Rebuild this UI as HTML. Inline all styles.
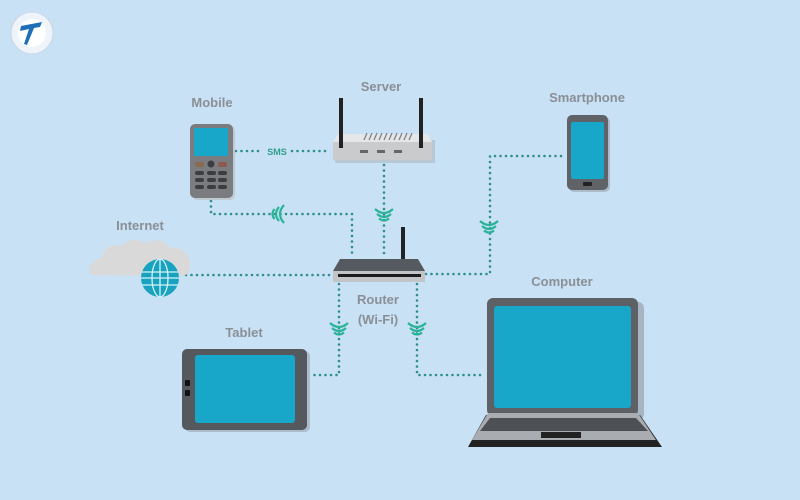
<!DOCTYPE html>
<html><head><meta charset="utf-8"><style>
html,body{margin:0;padding:0;background:#c9e1f5;}
svg{display:block}
text{font-family:"Liberation Sans",sans-serif;fill:#8a8f96;font-weight:bold;font-size:13px;text-anchor:middle}
</style></head><body>
<svg width="800" height="500" viewBox="0 0 800 500">
<defs>
<g id="wv">
 <path d="M-9,-5 Q0,3 9,-5" fill="none" stroke="#2bb39a" stroke-width="2.2"/>
 <path d="M-7,0 Q0,6 7,0" fill="none" stroke="#2bb39a" stroke-width="2.2"/>
 <path d="M-5,4.5 Q0,8.5 5,4.5" fill="none" stroke="#2bb39a" stroke-width="2.2"/>
</g>
</defs>
<rect width="800" height="500" fill="#c9e1f5"/>
<!-- logo -->
<circle cx="32" cy="33" r="21" fill="#eef4fa" stroke="#c8d6e6"/>
<circle cx="32" cy="33" r="14" fill="#fff"/>
<path d="M21,26 L42,22 L40,27 L34,28 L27,45 L24,44 L29,29 L20,31Z" fill="#1d6fb8"/>
<!-- dotted lines -->
<g fill="none" stroke="#2e8f8c" stroke-width="2.6" stroke-linecap="round" stroke-dasharray="0 5.5">
 <path d="M236,151 H262"/><path d="M292,151 H330"/>
 <path d="M211,201 V214 H352 V258"/>
 <path d="M384,165 V258"/>
 <path d="M186,275 H333"/>
 <path d="M426,274 H490 V156 H566"/>
 <path d="M339,284 V375 H310"/>
 <path d="M417,284 V375 H485"/>
</g>
<text x="277" y="155" style="font-size:9px;fill:#2e9f8c">SMS</text>
<use href="#wv" x="384" y="214"/>
<use href="#wv" x="489" y="226"/>
<use href="#wv" x="339" y="328"/>
<use href="#wv" x="417" y="328"/>
<use href="#wv" transform="translate(279,214) rotate(90)"/>
<!-- labels -->
<text x="212" y="107">Mobile</text>
<text x="381" y="91">Server</text>
<text x="587" y="102">Smartphone</text>
<text x="140" y="230">Internet</text>
<text x="378" y="304">Router</text>
<text x="378" y="324">(Wi-Fi)</text>
<text x="244" y="337">Tablet</text>
<text x="562" y="286">Computer</text>
<!-- mobile phone -->
<rect x="192" y="126" width="43" height="74" rx="5" fill="#b9babb" opacity=".6"/>
<rect x="190" y="124" width="43" height="74" rx="5" fill="#7a7c80"/>
<rect x="194" y="128" width="34" height="28" fill="#18a6c9"/>
<g fill="#3b3d41">
<rect x="195" y="162" width="9" height="5" rx="2" fill="#8a6a50"/><circle cx="211" cy="164" r="3.5"/><rect x="218" y="162" width="9" height="5" rx="2" fill="#8a5a50"/>
<rect x="195" y="171" width="9" height="4" rx="2"/><rect x="207" y="171" width="9" height="4" rx="2"/><rect x="218" y="171" width="9" height="4" rx="2"/>
<rect x="195" y="178" width="9" height="4" rx="2"/><rect x="207" y="178" width="9" height="4" rx="2"/><rect x="218" y="178" width="9" height="4" rx="2"/>
<rect x="195" y="185" width="9" height="4" rx="2"/><rect x="207" y="185" width="9" height="4" rx="2"/><rect x="218" y="185" width="9" height="4" rx="2"/>
</g>
<!-- server -->
<rect x="335" y="140" width="100" height="23" fill="#a9afb6" opacity=".5"/>
<path d="M338,134 H428 L432,142 H333Z" fill="#e4e6e8"/>
<rect x="333" y="142" width="99" height="18" fill="#c9cbcd"/>
<g stroke="#7a7e83" stroke-width="1.2">
<path d="M364,140 l3,-7 M369,140 l3,-7 M374,140 l3,-7 M379,140 l3,-7 M384,140 l3,-7 M389,140 l3,-7 M394,140 l3,-7 M399,140 l3,-7 M404,140 l3,-7 M409,140 l3,-7"/>
</g>
<rect x="360" y="150" width="8" height="3" fill="#666"/><rect x="377" y="150" width="8" height="3" fill="#666"/><rect x="394" y="150" width="8" height="3" fill="#666"/>
<rect x="339" y="98" width="4" height="50" fill="#222"/><rect x="419" y="98" width="4" height="50" fill="#222"/>
<!-- router -->
<rect x="401" y="227" width="4" height="33" fill="#222"/>
<path d="M340,259 H418 L425,271 H333Z" fill="#555a60"/>
<rect x="333" y="271" width="92" height="11" fill="#c2c4c6"/>
<rect x="338" y="274" width="83" height="3" fill="#1c1c1c"/>
<!-- smartphone -->
<rect x="569" y="117" width="41" height="75" rx="5" fill="#9aa3ad" opacity=".6"/>
<rect x="567" y="115" width="41" height="75" rx="5" fill="#5f6368"/>
<rect x="571" y="122" width="33" height="57" rx="2" fill="#18a6c9"/>
<rect x="583" y="182" width="9" height="4" rx="1" fill="#222"/>
<!-- internet cloud -->
<path d="M90,275 Q86,262 102,258 Q104,244 122,245 Q132,236 146,243 Q162,236 170,248 Q186,246 190,262 Q192,276 180,276Z" fill="#d9d9d9"/>
<circle cx="160" cy="278" r="19" fill="#17a3bf"/>
<g fill="none" stroke="#d6f1f7" stroke-width="1.3">
<ellipse cx="160" cy="278" rx="8" ry="19"/><line x1="160" y1="259" x2="160" y2="297"/>
<line x1="142" y1="272" x2="178" y2="272"/><line x1="141" y1="278" x2="179" y2="278"/><line x1="142" y1="285" x2="178" y2="285"/>
</g>
<!-- tablet -->
<rect x="185" y="351" width="125" height="81" rx="5" fill="#9aa3ad" opacity=".6"/>
<rect x="182" y="349" width="125" height="81" rx="5" fill="#55595e"/>
<rect x="195" y="355" width="100" height="68" rx="3" fill="#18a6c9"/>
<rect x="185" y="380" width="5" height="6" rx="1" fill="#111"/><rect x="185" y="390" width="5" height="6" rx="1" fill="#111"/>
<!-- computer -->
<rect x="491" y="302" width="153" height="118" rx="6" fill="#8f97a0" opacity=".6"/>
<rect x="487" y="298" width="151" height="118" rx="6" fill="#5d6166"/>
<rect x="494" y="306" width="137" height="102" rx="3" fill="#18a6c9"/>
<path d="M486,415 H640 L662,447 H468Z" fill="#222"/>
<path d="M488,413 H638 L656,440 H472Z" fill="#a9adb1"/>
<path d="M490,418 H636 L648,431 H480Z" fill="#4d5156"/>
<rect x="541" y="432" width="40" height="6" fill="#222"/>
</svg>
</body></html>
